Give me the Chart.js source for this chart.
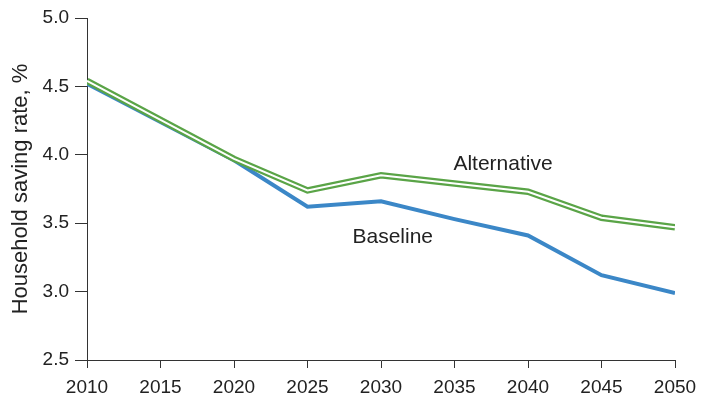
<!DOCTYPE html>
<html>
<head>
<meta charset="utf-8">
<script src="https://cdn.jsdelivr.net/npm/chart.js@4"></script>
<style>
  html, body { margin: 0; padding: 0; background: #fff; }
  #wrap { width: 714px; height: 401px; }
</style>
</head>
<body>
<div id="wrap"><canvas id="savingChart" width="714" height="401"></canvas></div>
<script>
// values
const years = [2010, 2020, 2025, 2030, 2035, 2040, 2045, 2050];
const baseline = [4.52, 3.96, 3.62, 3.66, 3.53, 3.41, 3.12, 2.99];
const alternative = [4.54, 3.97, 3.74, 3.85, 3.79, 3.73, 3.54, 3.47];
const yTicks = [2.5, 3.0, 3.5, 4.0, 4.5, 5.0];

const toPoints = (vals) => vals.map((v, i) => ({ x: years[i], y: v }));

// series labels placed on the plot, in data units
const seriesLabels = [
    { text: 'Alternative', x: 2038.3, y: 3.93 },
    { text: 'Baseline', x: 2030.8, y: 3.40 }
];

const family = '"Liberation Sans", Arial, sans-serif';

const labelPlugin = {
    id: 'seriesLabels',
    afterDatasetsDraw(chart) {
        const { ctx, scales: { x, y } } = chart;
        ctx.save();
        ctx.font = `21px ${family}`;
        ctx.fillStyle = '#222';
        ctx.textAlign = 'center';
        ctx.textBaseline = 'middle';
        seriesLabels.forEach(l => ctx.fillText(l.text, x.getPixelForValue(l.x), y.getPixelForValue(l.y)));
        ctx.restore();
    }
};

const tickFont = { family, size: 19 };

new Chart(document.getElementById('savingChart'), {
    type: 'line',
    data: {
        datasets: [
            {
                label: 'Baseline',
                data: toPoints(baseline),
                borderColor: '#3b87c7',
                borderWidth: 4,
                pointRadius: 0,
                tension: 0,
                order: 3
            },
            {
                label: 'Alternative',
                data: toPoints(alternative),
                borderColor: '#5aa447',
                borderWidth: 6.5,
                pointRadius: 0,
                tension: 0,
                order: 2
            },
            {
                // white core that makes the alternative a double line
                label: 'Alternative core',
                data: toPoints(alternative),
                borderColor: '#ffffff',
                borderWidth: 2,
                pointRadius: 0,
                tension: 0,
                order: 1
            }
        ]
    },
    options: {
        responsive: false,
        animation: false,
        layout: { padding: { top: 18, right: 39, left: 0, bottom: 0 } },
        plugins: { legend: { display: false }, tooltip: { enabled: false } },
        scales: {
            x: {
                type: 'linear',
                min: 2010,
                max: 2050,
                afterFit: (s) => { s.height = 41; },
                ticks: { stepSize: 5, color: '#222', font: tickFont, padding: 8, maxRotation: 0,
                    callback: (v) => String(v) },
                grid: { drawOnChartArea: false, drawTicks: true, tickLength: 8, color: '#333' },
                border: { color: '#333', width: 1 }
            },
            y: {
                min: 2.5,
                max: 5.0,
                afterFit: (s) => { s.width = 87; },
                afterBuildTicks: (s) => { s.ticks = yTicks.map(v => ({ value: v })); },
                ticks: { color: '#222', font: tickFont, padding: 6, callback: (v) => v.toFixed(1) },
                title: { display: true, text: 'Household saving rate, %', color: '#222',
                    font: { family, size: 22 }, padding: { top: 8, bottom: 0 } },
                grid: { drawOnChartArea: false, drawTicks: true, tickLength: 12, color: '#333' },
                border: { color: '#333', width: 1 }
            }
        }
    },
    plugins: [labelPlugin]
});
</script>
</body>
</html>
